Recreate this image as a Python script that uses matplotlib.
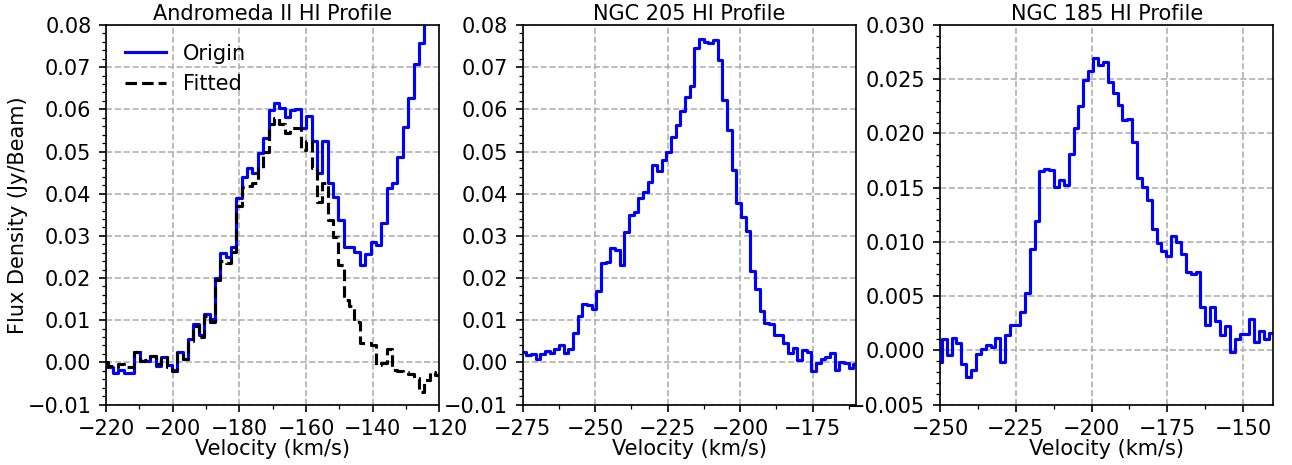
import numpy as np
import matplotlib.pyplot as plt
from matplotlib.ticker import AutoMinorLocator, MultipleLocator

# channel width of the spectra (km/s)
dv = 1.61

# Andromeda II: first channel centre + flux per channel (Jy/Beam)
and2_v0 = -220.355
and2_origin = [
    -0.0012, -0.0012, -0.0026, -0.0018, -0.0025, -0.0026,
    0.0024, 0.0002, 0.0004, 0.0016, -0.0009, 0.0013, -0.0006, -0.0017, 0.0025, 0.0009,
    0.0055, 0.0092, 0.0065, 0.0115, 0.0103, 0.0199, 0.0260, 0.0251, 0.0274, 0.0389,
    0.0439, 0.0462, 0.0450, 0.0496, 0.0532, 0.0599, 0.0614, 0.0603, 0.0582, 0.0599,
    0.0602, 0.0555, 0.0584, 0.0526, 0.0450, 0.0525, 0.0425, 0.0393, 0.0338, 0.0273,
    0.0273, 0.0261, 0.0231, 0.0258, 0.0285, 0.0278, 0.0331, 0.0414, 0.0425, 0.0488,
    0.0557, 0.0628, 0.0707, 0.0758, 0.0900, 0.1000, 0.1100, 0.1200,
]
and2_fitted = [
    0.0001, -0.0008, -0.0010, -0.0005, -0.0012, -0.0010,
    0.0025, 0.0003, 0.0005, 0.0014, -0.0005, 0.0012, -0.0010, -0.0020, 0.0022, 0.0008,
    0.0050, 0.0085, 0.0060, 0.0110, 0.0095, 0.0195, 0.0240, 0.0235, 0.0262, 0.0370,
    0.0415, 0.0418, 0.0425, 0.0462, 0.0499, 0.0566, 0.0579, 0.0566, 0.0543, 0.0555,
    0.0555, 0.0504, 0.0525, 0.0460, 0.0381, 0.0425, 0.0338, 0.0298, 0.0231, 0.0148,
    0.0134, 0.0096, 0.0045, 0.0045, 0.0041, -0.0007, -0.0002, 0.0031, -0.0018, -0.0020,
    -0.0022, -0.0028, -0.0038, -0.0070, -0.0042, -0.0022, -0.0030, -0.0025,
]

# NGC 205
n205_v0 = -276.115
n205_origin = [
    0.0025, 0.0025, 0.0017, 0.0020, 0.0007, 0.0020, 0.0028, 0.0021, 0.0031, 0.0042, 0.0023,
    0.0031, 0.0070, 0.0111, 0.0138, 0.0136, 0.0126, 0.0170, 0.0236, 0.0238, 0.0271,
    0.0266, 0.0230, 0.0308, 0.0349, 0.0356, 0.0389, 0.0405, 0.0428, 0.0469, 0.0454,
    0.0481, 0.0498, 0.0534, 0.0564, 0.0597, 0.0630, 0.0656, 0.0746, 0.0766, 0.0760,
    0.0757, 0.0764, 0.0717, 0.0621, 0.0551, 0.0455, 0.0377, 0.0345, 0.0311, 0.0217,
    0.0173, 0.0122, 0.0094, 0.0090, 0.0065, 0.0065, 0.0045, 0.0023, 0.0035, 0.0006,
    0.0029, 0.0025, -0.0020, -0.0002, 0.0007, 0.0012, 0.0023, -0.0017, 0.0001, -0.0001,
    -0.0014, -0.0004, -0.0004,
]

# NGC 185
n185_v0 = -251.825
n185_origin = [
    -0.0011, -0.0011, 0.0010, -0.0004, 0.0011, 0.0007, -0.0013, -0.0025, -0.0018, -0.0003,
    0.0001, 0.0005, 0.0003, 0.0011, -0.0011, 0.0014, 0.0023, 0.0023, 0.0035, 0.0053,
    0.0093, 0.0119, 0.0165, 0.0167, 0.0166, 0.0151, 0.0157, 0.0152, 0.0181, 0.0205,
    0.0225, 0.0249, 0.0258, 0.0270, 0.0263, 0.0266, 0.0247, 0.0237, 0.0226, 0.0212,
    0.0213, 0.0192, 0.0159, 0.0151, 0.0139, 0.0112, 0.0099, 0.0092, 0.0087, 0.0105,
    0.0100, 0.0089, 0.0072, 0.0070, 0.0072, 0.0040, 0.0023, 0.0040, 0.0027, 0.0014,
    0.0022, -0.0002, 0.0010, 0.0015, 0.0015, 0.0029, 0.0008, 0.0018, 0.0010, 0.0016, 0.0019,
]


def channels(v0, flux):
    return v0 + dv * np.arange(len(flux))


plt.rcParams['font.size'] = 10
fig = plt.figure(figsize=(8.62, 3.1), dpi=150)

lefts = [0.0820, 0.4042, 0.7270]
axes = [fig.add_axes([l, 0.1301, 0.2579, 0.8161]) for l in lefts]

panels = [
    ("Andromeda II HI Profile", and2_v0, and2_origin, (-220, -120), 20, (-0.01, 0.08)),
    ("NGC 205 HI Profile", n205_v0, n205_origin, (-275, -160), 25, (-0.01, 0.08)),
    ("NGC 185 HI Profile", n185_v0, n185_origin, (-250, -140), 25, (-0.005, 0.03)),
]

for ax, (title, v0, flux, xlim, xstep, ylim) in zip(axes, panels):
    ax.step(channels(v0, flux), flux, where='mid', color='blue', lw=1.5, label='Origin')
    ax.set_xlim(*xlim)
    ax.set_ylim(*ylim)
    ax.xaxis.set_major_locator(MultipleLocator(xstep))
    ax.xaxis.set_minor_locator(AutoMinorLocator(2))
    ax.yaxis.set_minor_locator(AutoMinorLocator(5))
    ax.grid(True, which='major', linestyle='--', color='#b0b0b0', linewidth=0.8)
    ax.set_title(title, fontsize=10, pad=2.5)
    ax.set_xlabel('Velocity (km/s)', labelpad=0)

ax0 = axes[0]
ax0.step(channels(and2_v0, and2_fitted), and2_fitted, where='mid', color='black',
         lw=1.5, linestyle='--', label='Fitted')
ax0.set_ylabel('Flux Density (Jy/Beam)', labelpad=0)
ax0.legend(loc='upper left', frameon=False)

fig.savefig('out.png', dpi=150)
